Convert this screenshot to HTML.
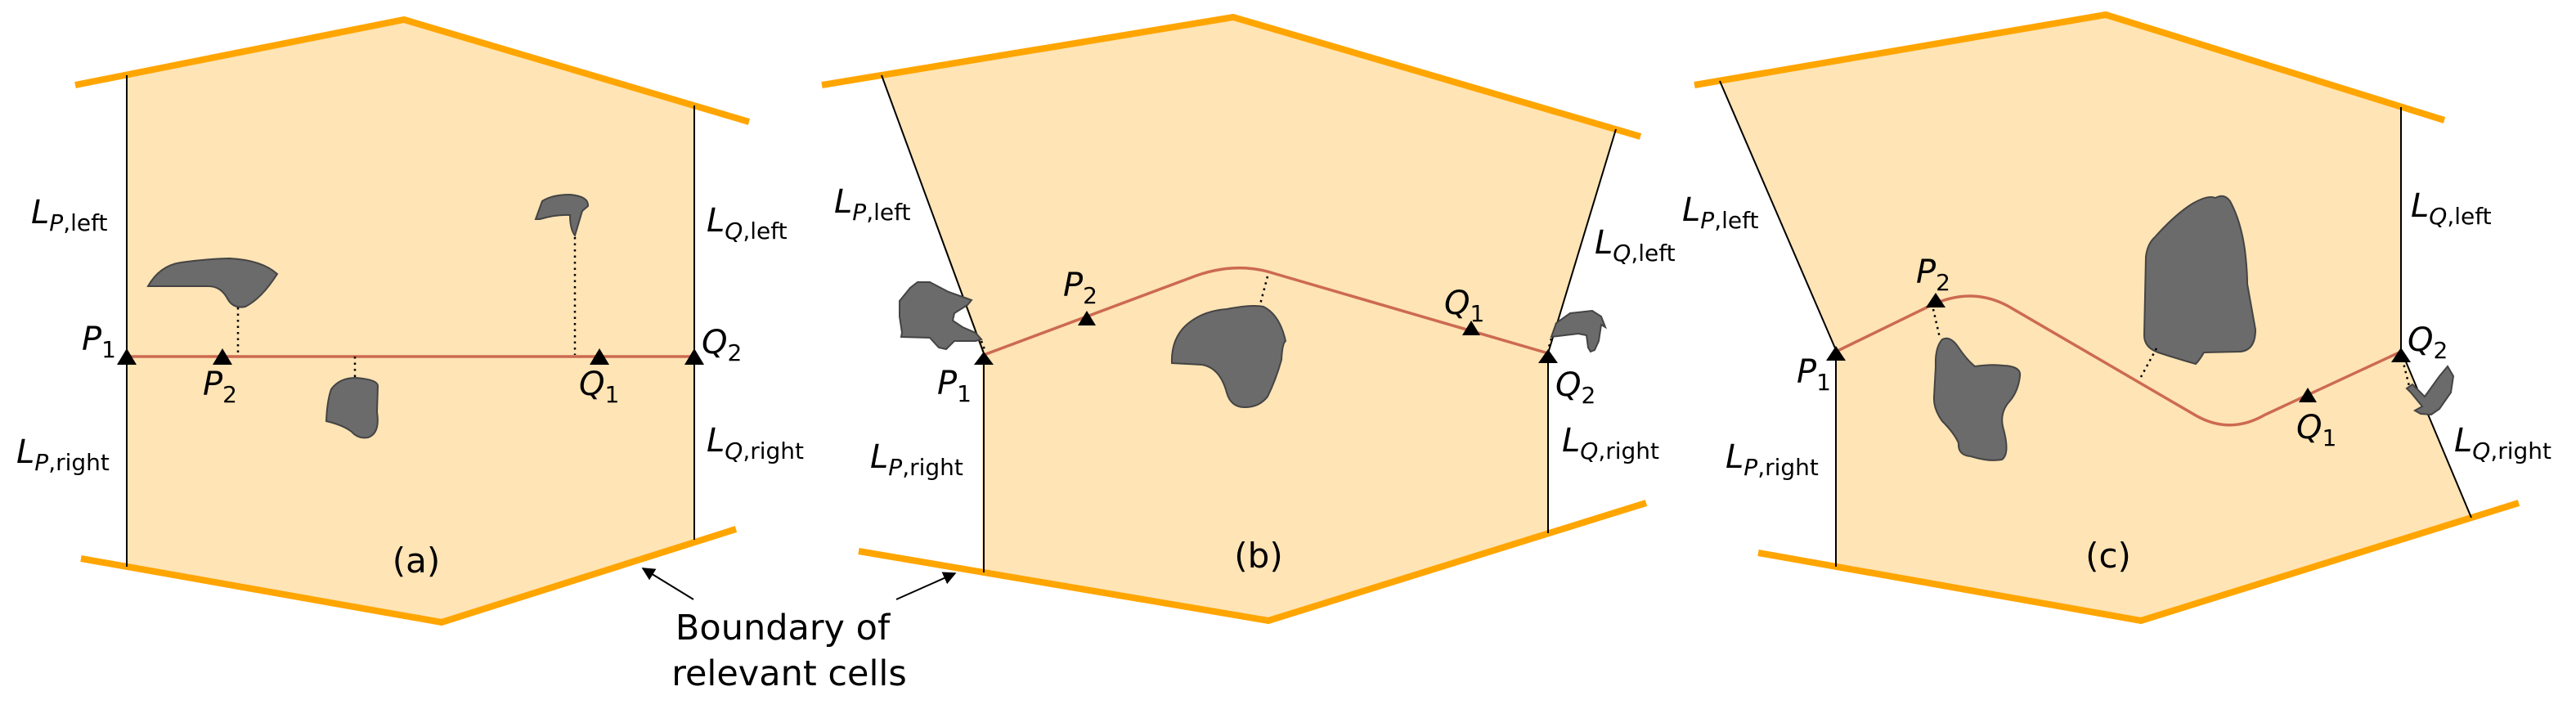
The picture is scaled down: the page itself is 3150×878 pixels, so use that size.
<!DOCTYPE html>
<html><head><meta charset="utf-8"><style>
html,body{margin:0;padding:0;background:#fff;}
svg{display:block;}
text{font-family:"DejaVu Sans","Liberation Sans",sans-serif;fill:#000;}
.or{stroke:#FFA500;stroke-width:8;fill:none;}
.fill{fill:#FFE4B5;stroke:none;}
.bl{stroke:#000;stroke-width:2;fill:none;}
.red{stroke:#CC6A50;stroke-width:3.5;fill:none;}
.ob{fill:#6B6B6B;stroke:#444;stroke-width:2;}
.dot{stroke:#000;stroke-width:2.5;stroke-dasharray:2.5 5;fill:none;}
.lab{font-size:40px;}
</style></head><body>
<svg width="3150" height="878" viewBox="0 0 3150 878" xmlns="http://www.w3.org/2000/svg">
<defs>
<marker id="ah" viewBox="0 0 10 10" refX="9" refY="5" markerWidth="8" markerHeight="8" orient="auto"><path d="M0,0 L10,5 L0,10 z" fill="#000"/></marker>
</defs>

<!-- Panel (a) -->
<polygon class="fill" points="155,92 494,24 849,129 849,661 540,761 155,693"/>
<polyline class="or" points="92,104 494,24 916,149"/>
<polyline class="or" points="99,683 540,761 900,647"/>
<line class="bl" x1="155" y1="92" x2="155" y2="693"/>
<line class="bl" x1="849" y1="129" x2="849" y2="660"/>
<line class="red" x1="155" y1="436" x2="849" y2="436"/>
<path class="ob" d="M181,350 Q195,325 221,321 Q260,316 281,316 Q320,318 339,335 Q320,365 300,375 Q285,378 278,365 Q270,350 255,350 L188,350 Z"/>
<path class="ob" d="M655,268 L663,246 Q675,238 697,238 Q720,240 719,252 L712,258 L703,288 Q697,280 697,263 Q680,262 660,268 Z"/>
<path class="ob" d="M399,515 Q400,490 405,476 Q415,462 435,462 Q462,464 462,472 L461,504 Q465,530 450,535 Q438,537 430,528 Q420,520 399,515 Z"/>
<line class="dot" x1="291" y1="376" x2="291" y2="434"/>
<line class="dot" x1="703" y1="290" x2="703" y2="434"/>
<line class="dot" x1="434" y1="436" x2="434" y2="462"/>
<g fill="#000">
<polygon points="155,426 143,446 167,446"/>
<polygon points="272,426 260,446 284,446"/>
<polygon points="733,426 721,446 745,446"/>
<polygon points="849,426 837,446 861,446"/>
</g>
<text class="lab" x="38" y="273"><tspan font-style="italic">L</tspan><tspan font-size="28" dy="9"><tspan font-style="italic">P</tspan>,left</tspan></text>
<text class="lab" x="20" y="566"><tspan font-style="italic">L</tspan><tspan font-size="28" dy="9"><tspan font-style="italic">P</tspan>,right</tspan></text>
<text class="lab" x="864" y="283"><tspan font-style="italic">L</tspan><tspan font-size="28" dy="9"><tspan font-style="italic">Q</tspan>,left</tspan></text>
<text class="lab" x="864" y="552"><tspan font-style="italic">L</tspan><tspan font-size="28" dy="9"><tspan font-style="italic">Q</tspan>,right</tspan></text>
<text class="lab" x="100" y="428"><tspan font-style="italic">P</tspan><tspan font-size="28" dy="9">1</tspan></text>
<text class="lab" x="248" y="483"><tspan font-style="italic">P</tspan><tspan font-size="28" dy="9">2</tspan></text>
<text class="lab" x="708" y="483"><tspan font-style="italic">Q</tspan><tspan font-size="28" dy="9">1</tspan></text>
<text class="lab" x="858" y="432"><tspan font-style="italic">Q</tspan><tspan font-size="28" dy="9">2</tspan></text>
<text x="509" y="700" font-size="42" text-anchor="middle">(a)</text>

<!-- Boundary label -->
<text x="957" y="782" font-size="43" text-anchor="middle">Boundary of</text>
<text x="965" y="838" font-size="43" text-anchor="middle">relevant cells</text>
<line x1="848" y1="733" x2="786" y2="695" stroke="#000" stroke-width="2" marker-end="url(#ah)"/>
<line x1="1096" y1="733" x2="1168" y2="701" stroke="#000" stroke-width="2" marker-end="url(#ah)"/>

<!-- Panel (b) -->
<polygon class="fill" points="1078,92 1508,21 1976,158 1894,432 1894,652 1551,759 1201,700 1201,432"/>
<polyline class="or" points="1005,104 1508,21 2006,167"/>
<polyline class="or" points="1050,674 1551,759 2013,615"/>
<line class="bl" x1="1078" y1="92" x2="1203" y2="432"/>
<line class="bl" x1="1203" y1="432" x2="1203" y2="700"/>
<line class="bl" x1="1976" y1="158" x2="1893" y2="432"/>
<line class="bl" x1="1893" y1="432" x2="1893" y2="652"/>
<path class="red" d="M1203,434 L1455,340 Q1510,318 1560,335 L1893,432"/>
<path class="ob" d="M1100,368 L1113,352 L1122,345 L1137,345 L1160,357 L1177,363 L1188,367 L1183,373 L1167,383 L1165,392 L1177,400 L1193,407 L1200,415 L1193,417 L1167,417 L1157,427 L1148,425 L1137,413 L1102,412 L1103,407 L1100,387 Z"/>
<path class="ob" d="M1433,444 Q1432,415 1450,398 Q1470,380 1500,378 Q1530,372 1545,375 Q1565,385 1572,417 Q1568,420 1567,440 Q1560,465 1550,485 Q1540,498 1522,498 Q1505,498 1500,480 Q1492,450 1470,446 Q1450,445 1433,444 Z"/>
<path class="ob" d="M1897,412 L1903,395 L1920,383 L1947,380 L1958,387 L1963,400 L1958,397 L1955,417 L1950,428 L1945,430 L1942,425 L1940,410 L1930,408 Z"/>
<line class="dot" x1="1550" y1="338" x2="1541" y2="372"/>
<line class="dot" x1="1200" y1="417" x2="1205" y2="430"/>
<line class="dot" x1="1897" y1="414" x2="1893" y2="428"/>
<g fill="#000">
<polygon points="1203,430 1191,446 1215,446"/>
<polygon points="1329,380 1318,398 1340,398"/>
<polygon points="1799,392 1788,410 1810,410"/>
<polygon points="1893,427 1881,444 1905,444"/>
</g>
<text class="lab" x="1020" y="260"><tspan font-style="italic">L</tspan><tspan font-size="28" dy="9"><tspan font-style="italic">P</tspan>,left</tspan></text>
<text class="lab" x="1064" y="572"><tspan font-style="italic">L</tspan><tspan font-size="28" dy="9"><tspan font-style="italic">P</tspan>,right</tspan></text>
<text class="lab" x="1950" y="310"><tspan font-style="italic">L</tspan><tspan font-size="28" dy="9"><tspan font-style="italic">Q</tspan>,left</tspan></text>
<text class="lab" x="1910" y="552"><tspan font-style="italic">L</tspan><tspan font-size="28" dy="9"><tspan font-style="italic">Q</tspan>,right</tspan></text>
<text class="lab" x="1146" y="482"><tspan font-style="italic">P</tspan><tspan font-size="28" dy="9">1</tspan></text>
<text class="lab" x="1300" y="362"><tspan font-style="italic">P</tspan><tspan font-size="28" dy="9">2</tspan></text>
<text class="lab" x="1766" y="384"><tspan font-style="italic">Q</tspan><tspan font-size="28" dy="9">1</tspan></text>
<text class="lab" x="1902" y="484"><tspan font-style="italic">Q</tspan><tspan font-size="28" dy="9">2</tspan></text>
<text x="1539" y="694" font-size="42" text-anchor="middle">(b)</text>

<!-- Panel (c) -->
<polygon class="fill" points="2103,99 2575,18 2936,131 2936,428 3022,633 2618,759 2245,693 2245,428"/>
<polyline class="or" points="2072,104 2575,18 2989,147"/>
<polyline class="or" points="2150,676 2618,759 3080,615"/>
<line class="bl" x1="2103" y1="99" x2="2245" y2="428"/>
<line class="bl" x1="2245" y1="428" x2="2245" y2="693"/>
<line class="bl" x1="2936" y1="131" x2="2936" y2="428"/>
<line class="bl" x1="2936" y1="428" x2="3022" y2="633"/>
<path class="red" d="M2245,430 L2360,374 Q2410,350 2455,374 L2685,508 Q2727,532 2770,507 L2936,430"/>
<path class="ob" d="M2624,314 Q2626,298 2635,290 Q2660,262 2681,249 Q2700,238 2709,242 Q2720,236 2727,246 Q2740,270 2745,305 Q2748,330 2748,347 Q2752,370 2758,403 Q2758,428 2740,430 L2695,431 Q2690,440 2685,445 Q2660,438 2639,431 Q2622,425 2622,410 Z"/>
<path class="ob" d="M2367,448 Q2366,425 2375,415 Q2385,410 2395,425 Q2405,440 2415,448 Q2435,445 2450,447 Q2472,448 2470,460 Q2468,478 2458,490 Q2444,505 2450,525 Q2458,555 2448,562 Q2432,565 2410,558 Q2394,557 2395,542 Q2390,530 2375,515 Q2364,500 2365,485 Z"/>
<path class="ob" d="M2943,475 L2950,470 L2965,485 L2983,460 L2993,448 L3000,460 L2997,480 L2983,500 L2973,507 L2960,506 L2953,502 L2962,497 L2948,480 Z"/>
<line class="dot" x1="2637" y1="426" x2="2618" y2="461"/>
<line class="dot" x1="2364" y1="378" x2="2372" y2="413"/>
<line class="dot" x1="2936" y1="432" x2="2946" y2="472"/>
<g fill="#000">
<polygon points="2245,423 2233,441 2257,441"/>
<polygon points="2367,358 2355,376 2379,376"/>
<polygon points="2822,474 2811,492 2833,492"/>
<polygon points="2936,425 2924,443 2948,443"/>
</g>
<text class="lab" x="2057" y="270"><tspan font-style="italic">L</tspan><tspan font-size="28" dy="9"><tspan font-style="italic">P</tspan>,left</tspan></text>
<text class="lab" x="2110" y="572"><tspan font-style="italic">L</tspan><tspan font-size="28" dy="9"><tspan font-style="italic">P</tspan>,right</tspan></text>
<text class="lab" x="2948" y="265"><tspan font-style="italic">L</tspan><tspan font-size="28" dy="9"><tspan font-style="italic">Q</tspan>,left</tspan></text>
<text class="lab" x="3001" y="552"><tspan font-style="italic">L</tspan><tspan font-size="28" dy="9"><tspan font-style="italic">Q</tspan>,right</tspan></text>
<text class="lab" x="2197" y="468"><tspan font-style="italic">P</tspan><tspan font-size="28" dy="9">1</tspan></text>
<text class="lab" x="2343" y="346"><tspan font-style="italic">P</tspan><tspan font-size="28" dy="9">2</tspan></text>
<text class="lab" x="2808" y="536"><tspan font-style="italic">Q</tspan><tspan font-size="28" dy="9">1</tspan></text>
<text class="lab" x="2944" y="429"><tspan font-style="italic">Q</tspan><tspan font-size="28" dy="9">2</tspan></text>
<text x="2578" y="694" font-size="42" text-anchor="middle">(c)</text>
</svg>
</body></html>
